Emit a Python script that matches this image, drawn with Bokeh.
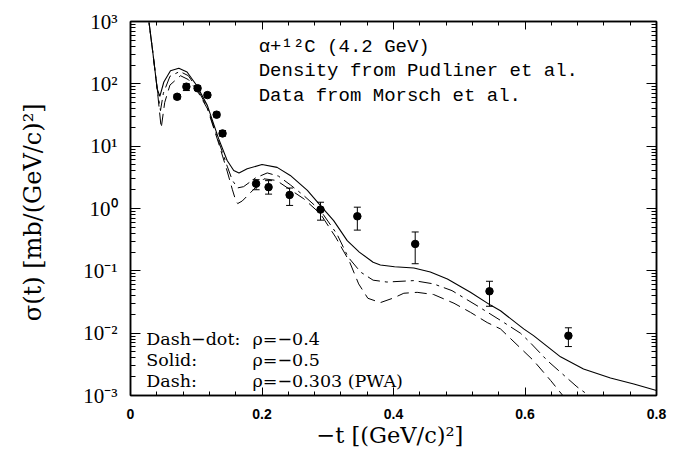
from bokeh.plotting import figure
from bokeh.models import (LinearAxis, LogAxis, Range1d, FixedTicker, Whisker,
                          ColumnDataSource, Label, TeeHead)
from bokeh.embed import file_html
from bokeh.resources import INLINE

# ---- measured data (Morsch et al.) ----
t_data = [0.071, 0.085, 0.102, 0.117, 0.131, 0.140, 0.191, 0.210, 0.242, 0.289, 0.345, 0.433, 0.546, 0.666]
sig_data = [62, 90, 85, 66, 32, 16, 2.5, 2.2, 1.65, 0.96, 0.75, 0.27, 0.047, 0.0091]
sig_lo = [57, 78, 78, 61, 29.5, 14.5, 2.0, 1.7, 1.12, 0.65, 0.45, 0.13, 0.027, 0.0061]
sig_hi = [67, 100, 93, 72, 35, 17.8, 2.9, 2.8, 2.13, 1.26, 1.05, 0.42, 0.068, 0.0122]

# ---- solid: rho = -0.5 ----
t_solid = [0.025, 0.028, 0.034, 0.0406, 0.0446, 0.0507, 0.0608, 0.0735, 0.086, 0.101, 0.117, 0.134,
           0.147, 0.157, 0.165, 0.1775, 0.200, 0.223, 0.243, 0.269, 0.289, 0.309, 0.3296, 0.348,
           0.369, 0.380, 0.4016, 0.431, 0.456, 0.482, 0.517, 0.5475, 0.5627, 0.598, 0.613, 0.654,
           0.689, 0.730, 0.7655, 0.80]
sig_solid = [1820, 1000, 316, 83.2, 63.1, 107, 162, 178, 155, 93.3, 44.7, 13.2,
             5.89, 4.07, 3.72, 4.33, 5.07, 4.57, 3.39, 1.95, 1.11, 0.640, 0.305, 0.200,
             0.137, 0.124, 0.116, 0.111, 0.0955, 0.0741, 0.0452, 0.0282, 0.0229, 0.0117, 0.00912, 0.00417,
             0.00266, 0.00191, 0.00153, 0.00120]

# ---- dash-dot: rho = -0.4 ----
t_dashdot = [0.025, 0.028, 0.034, 0.0406, 0.0456, 0.050, 0.060, 0.075, 0.088, 0.101, 0.117, 0.134,
             0.147, 0.155, 0.163, 0.172, 0.190, 0.208, 0.225, 0.243, 0.2636, 0.289, 0.314, 0.331,
             0.350, 0.369, 0.390, 0.431, 0.461, 0.489, 0.527, 0.565, 0.593, 0.606, 0.634, 0.679,
             0.697, 0.710]
sig_dashdot = [1820, 1000, 316, 83.2, 37.2, 70.8, 132, 158, 135, 85.1, 41.7, 12.0,
               4.79, 2.82, 2.14, 2.24, 3.09, 3.72, 3.31, 2.40, 1.61, 0.925, 0.389, 0.166,
               0.0955, 0.0708, 0.0661, 0.0697, 0.0617, 0.0481, 0.0276, 0.0155, 0.0100, 0.00741, 0.00363, 0.00138,
               0.00100, 0.00063]

# ---- dash: rho = -0.303 (PWA) ----
t_dash = [0.025, 0.028, 0.034, 0.0406, 0.0467, 0.052, 0.060, 0.076, 0.088, 0.101, 0.117, 0.134,
          0.147, 0.155, 0.160, 0.163, 0.170, 0.185, 0.203, 0.222, 0.243, 0.2636, 0.289, 0.312,
          0.333, 0.347, 0.361, 0.380, 0.400, 0.4157, 0.436, 0.461, 0.492, 0.517, 0.5425, 0.5627,
          0.613, 0.639, 0.659, 0.670]
sig_dash = [1820, 1000, 316, 83.2, 19.5, 50.1, 95.5, 135, 117, 79.4, 39.8, 11.2,
            3.98, 2.00, 1.35, 1.20, 1.32, 1.91, 2.99, 2.82, 2.00, 1.43, 0.818, 0.347,
            0.141, 0.0617, 0.0363, 0.0309, 0.0367, 0.0437, 0.0452, 0.0417, 0.0302, 0.0216, 0.0148, 0.0117,
            0.00363, 0.00174, 0.000955, 0.000631]

# ---- ticks ----
x_major = [0.0, 0.2, 0.4, 0.6, 0.8]
x_minor = [0.04, 0.08, 0.12, 0.16, 0.24, 0.28, 0.32, 0.36, 0.44, 0.48, 0.52, 0.56, 0.64, 0.68, 0.72, 0.76]
y_major = [1e-3, 1e-2, 1e-1, 1e0, 1e1, 1e2, 1e3]
y_labels = ["10\u207b\u00b3", "10\u207b\u00b2", "10\u207b\u00b9", "10\u2070", "10\u00b9", "10\u00b2", "10\u00b3"]
y_minor = [m * d for d in [1e-3, 1e-2, 1e-1, 1e0, 1e1, 1e2] for m in range(2, 10)]

p = figure(width=691, height=453, x_range=Range1d(0, 0.8), y_range=Range1d(1e-3, 1e3),
           y_axis_type="log", output_backend="svg", toolbar_location=None,
           min_border_left=130, min_border_right=35, min_border_top=21, min_border_bottom=58)
p.xgrid.visible = False
p.ygrid.visible = False
p.outline_line_color = "black"
p.outline_line_width = 1.5
p.background_fill_color = "white"
p.border_fill_color = "white"

xt = FixedTicker(ticks=x_major, minor_ticks=x_minor)
yt = FixedTicker(ticks=y_major, minor_ticks=y_minor)

def style_common(ax, major_in, minor_in, labels):
    ax.major_tick_in = major_in
    ax.major_tick_out = 0
    ax.minor_tick_in = minor_in
    ax.minor_tick_out = 0
    ax.axis_line_width = 1.5
    ax.axis_line_color = "black"
    ax.major_tick_line_color = "black"
    ax.minor_tick_line_color = "black"
    ax.major_tick_line_width = 1
    ax.minor_tick_line_width = 1
    ax.major_label_text_color = "black"
    ax.axis_label_text_color = "black"
    if not labels:
        ax.major_label_text_font_size = "1px"
        ax.major_label_text_color = None
        ax.major_label_standoff = 0

def style_x(ax, labels=True):
    ax.ticker = xt
    style_common(ax, 8, 4, labels)
    if labels:
        ax.major_label_text_font = "Liberation Sans"
        ax.major_label_text_font_style = "bold"
        ax.major_label_text_font_size = "14px"
        ax.major_label_standoff = 13

def style_y(ax, labels=True):
    ax.ticker = yt
    style_common(ax, 10, 5, labels)
    if labels:
        ax.major_label_overrides = {v: s for v, s in zip(y_major, y_labels)}
        ax.major_label_text_font = "Liberation Serif"
        ax.major_label_text_font_size = "21px"
        ax.major_label_standoff = 13

style_x(p.xaxis[0])
style_y(p.yaxis[0])
p.xaxis[0].axis_label = "\u2212t  [(GeV/c)\u00b2]"
p.xaxis[0].axis_label_text_font = "DejaVu Serif"
p.xaxis[0].axis_label_text_font_style = "normal"
p.xaxis[0].axis_label_text_font_size = "22.5px"
p.xaxis[0].axis_label_standoff = 0
p.yaxis[0].axis_label = "\u03c3(t)  [mb/(GeV/c)\u00b2]"
p.yaxis[0].axis_label_text_font = "DejaVu Serif"
p.yaxis[0].axis_label_text_font_style = "normal"
p.yaxis[0].axis_label_text_font_size = "24px"
p.yaxis[0].axis_label_standoff = 33

top = LinearAxis()
style_x(top, labels=False)
p.add_layout(top, "above")
right = LogAxis()
style_y(right, labels=False)
p.add_layout(right, "right")

# curves
p.line(t_solid, sig_solid, line_color="black", line_width=1.1)
p.line(t_dashdot, sig_dashdot, line_color="black", line_width=1.0, line_dash="13 5 3 5")
p.line(t_dash, sig_dash, line_color="black", line_width=1.0, line_dash="12 6")

# data with error bars
src = ColumnDataSource(dict(t=t_data, y=sig_data, lo=sig_lo, hi=sig_hi))
p.add_layout(Whisker(source=src, base="t", lower="lo", upper="hi", line_color="black", line_width=1,
                     upper_head=TeeHead(size=7, line_color="black", line_width=1),
                     lower_head=TeeHead(size=7, line_color="black", line_width=1)))
p.scatter("t", "y", source=src, size=7.5, color="black")

# annotations
mono = dict(text_font="Liberation Mono", text_font_size="19px", text_color="black",
            text_baseline="alphabetic")
p.add_layout(Label(x=0.195, y=386, text="\u03b1+\u00b9\u00b2C (4.2 GeV)", **mono))
p.add_layout(Label(x=0.195, y=159, text="Density from Pudliner et al.", **mono))
p.add_layout(Label(x=0.195, y=63.2, text="Data from Morsch et al.", **mono))

ser = dict(text_font="DejaVu Serif", text_font_size="17.5px", text_color="black",
           text_baseline="alphabetic")
leg_y = [0.0080, 0.0037, 0.00170]
leg_name = ["Dash\u2212dot:", "Solid:", "Dash:"]
leg_rho = ["\u03c1=\u22120.4", "\u03c1=\u22120.5", "\u03c1=\u22120.303 (PWA)"]
for yy, nm, rr in zip(leg_y, leg_name, leg_rho):
    p.add_layout(Label(x=0.024, y=yy, text=nm, **ser))
    p.add_layout(Label(x=0.1855, y=yy, text=rr, **ser))

open("out.html", "w").write(file_html(p, INLINE))
